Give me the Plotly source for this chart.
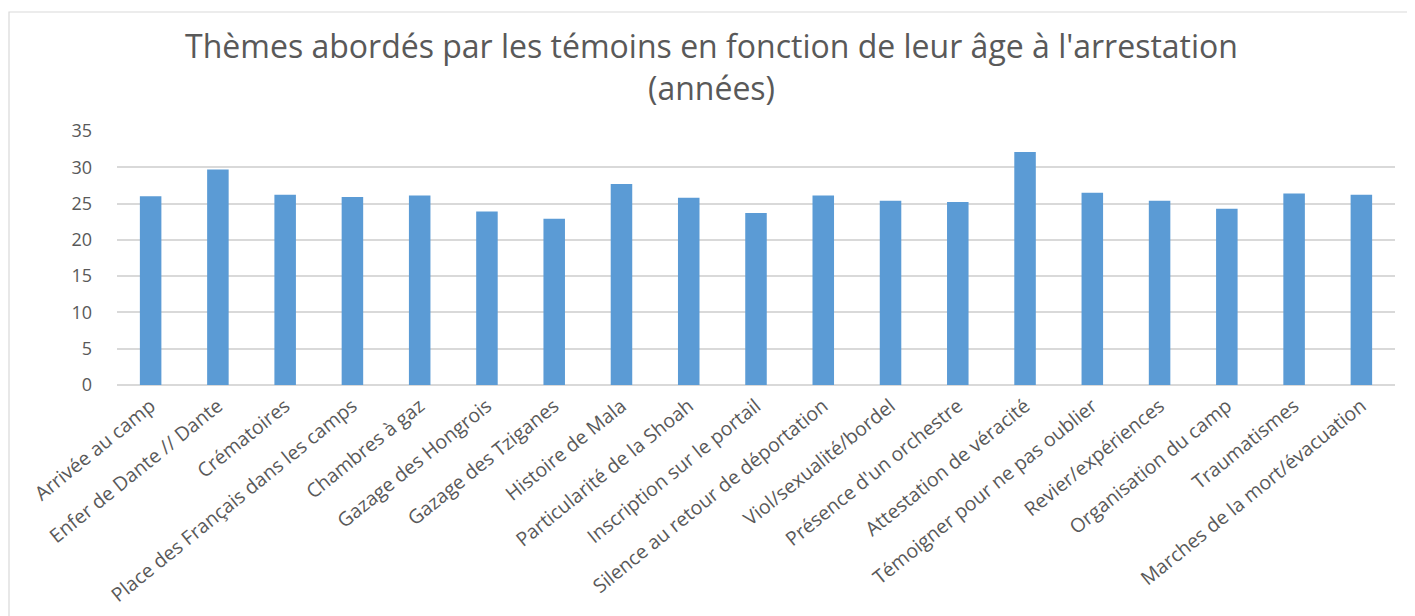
import plotly.graph_objects as go

categories = [
    "Arrivée au camp", "Enfer de Dante // Dante", "Crématoires",
    "Place des Français dans les camps", "Chambres à gaz", "Gazage des Hongrois",
    "Gazage des Tziganes", "Histoire de Mala", "Particularité de la Shoah",
    "Inscription sur le portail", "Silence au retour de déportation",
    "Viol/sexualité/bordel", "Présence d'un orchestre", "Attestation de véracité",
    "Témoigner pour ne pas oublier", "Revier/expériences", "Organisation du camp",
    "Traumatismes", "Marches de la mort/évacuation",
]
ages = [26.0, 29.7, 26.2, 25.9, 26.1, 23.9, 22.9, 27.7, 25.8, 23.7, 26.1,
        25.4, 25.2, 32.1, 26.5, 25.4, 24.3, 26.4, 26.2]
y_ticks = [0, 5, 10, 15, 20, 25, 30, 35]

title = "Thèmes abordés par les témoins en fonction de leur âge à l'arrestation<br>(années)"

fig = go.Figure(go.Bar(x=categories, y=ages, marker=dict(color="#5B9BD5", line=dict(width=0))))

# page has an 8px body offset; sizes below are in figure (div) coordinates
W, H = 1407, 608
L, T = 109, 123
R = W - 1387
B = H - 377
pw = W - L - R
ph = H - T - B

fig.update_layout(
    width=W, height=H,
    margin=dict(l=L, r=R, t=T, b=B),
    paper_bgcolor="white", plot_bgcolor="white",
    bargap=0.68,
    showlegend=False,
    font=dict(family="Open Sans, sans-serif", color="#595959"),
    title=dict(text=title, x=0.5, xanchor="center", y=1 - 50 / H, yanchor="middle",
               font=dict(size=32, color="#595959", family="Open Sans, sans-serif")),
    xaxis=dict(tickangle=-39, tickfont=dict(size=19.5, color="#595959"),
               showgrid=False, showline=False, ticks="", ticklabelstandoff=5,
               automargin=False),
    yaxis=dict(range=[0, 35], tickvals=y_ticks, tickfont=dict(size=18, color="#595959"),
               showgrid=True, gridcolor="#d9d9d9", gridwidth=1.5,
               zeroline=True, zerolinecolor="#d9d9d9", zerolinewidth=1.5,
               showline=False, ticks="", ticklabelstandoff=24, automargin=False),
    shapes=[dict(type="rect", xref="paper", yref="paper",
                 x0=(1 - L) / pw, x1=(W - 2 - L) / pw,
                 y0=-2, y1=(H - B - 4) / ph,
                 line=dict(color="#d9d9d9", width=1.2), fillcolor="rgba(0,0,0,0)", layer="below")],
)

fig.write_html("out.html")
